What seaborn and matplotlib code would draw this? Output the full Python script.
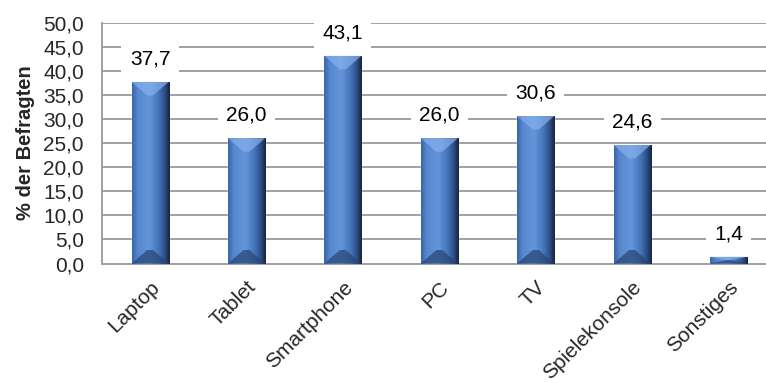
import numpy as np
import pandas as pd
import matplotlib
matplotlib.use("Agg")
import matplotlib.pyplot as plt
from matplotlib.colors import LinearSegmentedColormap
from matplotlib.patches import Polygon
import seaborn as sns

# data
geraete = ["Laptop", "Tablet", "Smartphone", "PC", "TV", "Spielekonsole", "Sonstiges"]
anteile = [37.7, 26.0, 43.1, 26.0, 30.6, 24.6, 1.4]
y_ticks = [0, 5, 10, 15, 20, 25, 30, 35, 40, 45, 50]

df = pd.DataFrame({"geraet": geraete, "anteil": anteile})

sns.set_theme(style="white")
plt.rcParams["font.family"] = ["Liberation Sans", "DejaVu Sans"]

fig = plt.figure(figsize=(7.66, 3.83), dpi=100)
ax = fig.add_axes([0.133, 0.312, 0.881, 0.629])

sns.barplot(data=df, x="geraet", y="anteil", color="#4F81BD", width=0.385,
            saturation=1, ax=ax, zorder=3)

grid_col = "#A0A0A0"
ax.set_ylim(0, 50)
ax.set_xlim(-0.5, len(geraete) - 0.5)
ax.set_yticks(y_ticks)
ax.set_yticklabels([f"{t:.1f}".replace(".", ",") for t in y_ticks], fontsize=15)
ax.yaxis.grid(True, color=grid_col, linewidth=1.4, zorder=0)
ax.set_axisbelow(True)
for s in ["top", "right"]:
    ax.spines[s].set_visible(False)
for s in ["left", "bottom"]:
    ax.spines[s].set_color(grid_col)
    ax.spines[s].set_linewidth(1.4)
ax.tick_params(axis="y", length=0, pad=13)
ax.tick_params(axis="x", length=0, pad=10)
ax.set_ylabel("% der Befragten", fontsize=14.5, fontweight="bold", labelpad=6)
ax.set_xlabel("")

for lab in ax.get_xticklabels():
    lab.set_rotation(45)
    lab.set_ha("right")
    lab.set_rotation_mode("anchor")
    lab.set_fontsize(15)

# bevelled gradient look of the bars
grad = LinearSegmentedColormap.from_list(
    "bar", [(0, "#3A66A8"), (0.15, "#5687CF"), (0.45, "#6596DC"),
            (0.72, "#4471B5"), (0.88, "#2B4B80"), (1.0, "#15243C")])
gradient = np.linspace(0, 1, 128).reshape(1, -1)
for p in ax.patches:
    x, w, h = p.get_x(), p.get_width(), p.get_height()
    im = ax.imshow(gradient, cmap=grad, aspect="auto", extent=(x, x + w, 0, h),
                   zorder=4, interpolation="bicubic")
    im.set_clip_path(p)
    d = min(2.8, h / 2)
    bx = w * 0.42
    ax.add_patch(Polygon([(x, h), (x + w, h), (x + w - bx, h - d), (x + bx, h - d)],
                         closed=True, facecolor="#86B0EC", alpha=0.7,
                         edgecolor="none", zorder=5))
    ax.add_patch(Polygon([(x, 0), (x + w, 0), (x + w - bx, d), (x + bx, d)],
                         closed=True, facecolor="#27446F", alpha=0.7,
                         edgecolor="none", zorder=5))

# value labels
for i, v in enumerate(anteile):
    ax.annotate(f"{v:.1f}".replace(".", ","), (i, v), xytext=(0, 16.5),
                textcoords="offset points", ha="center", va="center",
                fontsize=15, color="#000000", zorder=6,
                bbox=dict(boxstyle="square,pad=0.4", facecolor="white",
                          edgecolor="none"))

fig.savefig("out.png", dpi=100)
